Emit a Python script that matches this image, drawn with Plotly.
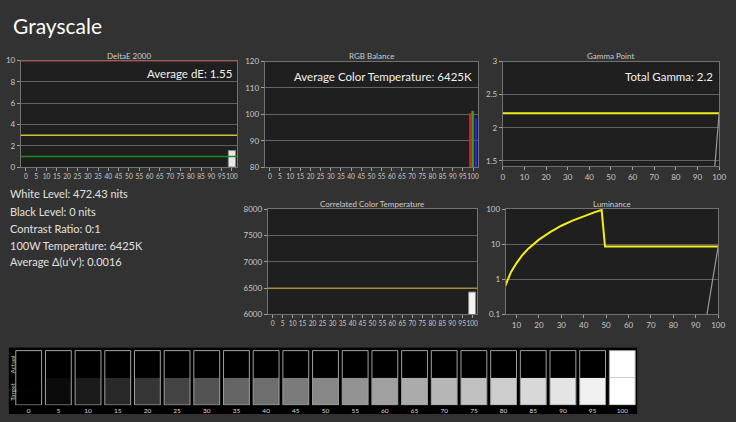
import plotly.graph_objects as go

W, H = 736, 422


def fx(p):
    return p / W


def fy(p):
    return 1 - p / H


FONT = "Lato"
PAGE_BG = "#323232"
PLOT_BG = "#1f1f1f"
GRID = "#626262"
AXLINE = "#727272"
TICKC = "#c8c8c8"

# ---------------- data ----------------
categories = ["0", "5", "10", "15", "20", "25", "30", "35", "40", "45", "50",
              "55", "60", "65", "70", "75", "80", "85", "90", "95", "100"]

# DeltaE 2000
de_x = ["100"]
de_y = [1.55]
de_ref_levels = [1, 3, 10]
de_ref_colors = ["#1d8a1d", "#c8c434", "#b8433c"]
avg_de = "1.55"

# RGB balance
rgb_x = ["100"]
red_y = [100.4]
green_y = [101.4]
blue_y = [98.4]
avg_ct = "6425K"

# Gamma point
gamma_target_x = [0, 100]
gamma_target_y = [2.22, 2.22]
gamma_meas_x = [95, 100]
gamma_meas_y = [0.2, 2.22]
total_gamma = "2.2"
gamma_xticks = [0, 10, 20, 30, 40, 50, 60, 70, 80, 90, 100]
gamma_yticks = [1.5, 2, 2.5, 3]
gamma_ytext = ["1.5", "2", "2.5", "3"]

# Correlated colour temperature
cct_x = ["100"]
cct_y = [6425]
cct_ref_level = 6500

# Luminance
lum_x = [5, 7.5, 10, 12.5, 15, 17.5, 20, 25, 30, 35, 40, 45, 48, 49.5, 100]
lum_y = [0.65, 1.6, 2.9, 4.8, 7.2, 10, 13.5, 22, 33.5, 47, 63, 82, 94, 8.6, 8.6]
lum_meas_x = [95, 100]
lum_meas_y = [0.1, 8.6]
lum_xticks = [10, 20, 30, 40, 50, 60, 70, 80, 90, 100]
lum_yticks = [0.1, 1, 10, 100]
lum_ytext = ["0.1", "1", "10", "100"]

# stats
stat_lines = ["White Level: 472.43 nits", "Black Level: 0 nits", "Contrast Ratio: 0:1",
              "100W Temperature: 6425K", "Average \u0394(u'v'): 0.0016"]

# swatches
target_colors = ["#000000", "#0b0b0b", "#1b1b1b", "#292929", "#363636", "#444444",
                 "#535353", "#646464", "#6e6e6e", "#7b7b7b", "#878787", "#939393",
                 "#a0a0a0", "#ababab", "#b6b6b6", "#c1c1c1", "#cdcdcd", "#d8d8d8",
                 "#e4e4e4", "#f0f0f0", "#ffffff"]
actual_colors = ["#000000"] * 20 + ["#ffffff"]
swatch_half = [1] * 21
swatch_full = [2] * 21

fig = go.Figure()

# DeltaE bar
fig.add_trace(go.Bar(x=de_x, y=de_y, xaxis="x", yaxis="y", width=0.7,
                     marker=dict(color="#e8e8e8", line=dict(color="#8a8a8a", width=1))))
# RGB bars
for ys, col, off, wd in [(red_y, "#e52020", -0.38, 0.2), (green_y, "#22a830", -0.16, 0.24),
                         (blue_y, "#2b2bf0", 0.17, 0.2)]:
    fig.add_trace(go.Bar(x=rgb_x, y=ys, xaxis="x2", yaxis="y2", width=wd, offset=off,
                         marker=dict(color=col, line=dict(width=0))))
# Gamma
fig.add_trace(go.Scatter(x=gamma_target_x, y=gamma_target_y, xaxis="x3", yaxis="y3",
                         mode="lines", line=dict(color="#f2ef1a", width=2)))
fig.add_trace(go.Scatter(x=gamma_meas_x, y=gamma_meas_y, xaxis="x3", yaxis="y3",
                         mode="lines", line=dict(color="#9a9a9a", width=1.2)))
# CCT
fig.add_trace(go.Bar(x=cct_x, y=cct_y, xaxis="x4", yaxis="y4", width=0.7,
                     marker=dict(color="#f4f4f4", line=dict(color="#8a8a8a", width=1))))
# Luminance
fig.add_trace(go.Scatter(x=lum_x, y=lum_y, xaxis="x5", yaxis="y5", mode="lines",
                         line=dict(color="#f2ef1a", width=2)))
fig.add_trace(go.Scatter(x=lum_meas_x, y=lum_meas_y, xaxis="x5", yaxis="y5", mode="lines",
                         line=dict(color="#9a9a9a", width=1.2)))
# Swatches
fig.add_trace(go.Bar(x=categories, y=swatch_half, base=0, xaxis="x6", yaxis="y6", width=0.87,
                     marker=dict(color=target_colors, line=dict(width=0))))
fig.add_trace(go.Bar(x=categories, y=swatch_half, base=1, xaxis="x6", yaxis="y6", width=0.87,
                     marker=dict(color=actual_colors, line=dict(width=0))))
fig.add_trace(go.Bar(x=categories, y=swatch_full, base=0, xaxis="x6", yaxis="y6", width=0.87,
                     marker=dict(color="rgba(0,0,0,0)", line=dict(color="#a0a0a0", width=1))))

tickfont = dict(family=FONT, size=8, color=TICKC)
common = dict(showline=True, mirror=True, linecolor=AXLINE, linewidth=1, ticks="outside",
              ticklen=3, tickcolor="#a0a0a0", tickfont=tickfont, zeroline=False)


def cat_x(d0, d1, anchor):
    return dict(common, domain=[fx(d0), fx(d1)], anchor=anchor, type="category",
                categoryorder="array", categoryarray=categories, range=[-0.5, 20.5],
                tickmode="array", tickvals=categories, ticktext=categories, tickangle=0,
                showgrid=False, tickfont=dict(family=FONT, size=6.6, color=TICKC))


def ydom(t, b):
    return [fy(b), fy(t)]


layout = dict(
    width=W, height=H, margin=dict(l=0, r=0, t=0, b=0),
    paper_bgcolor=PAGE_BG, plot_bgcolor=PLOT_BG, showlegend=False, barmode="overlay",
    font=dict(family=FONT, color="#dddddd"),
    xaxis=cat_x(19, 238, "y"),
    yaxis=dict(common, domain=ydom(57, 166), anchor="x", range=[0, 10], dtick=2,
               showgrid=True, gridcolor=GRID, gridwidth=1.3),
    xaxis2=cat_x(266, 482, "y2"),
    yaxis2=dict(common, domain=ydom(58, 166), anchor="x2", range=[80, 120], dtick=10,
                showgrid=True, gridcolor=GRID, gridwidth=1.3),
    xaxis3=dict(common, domain=[fx(507), fx(726)], anchor="y3", range=[0, 100],
                tickvals=gamma_xticks, showgrid=False),
    yaxis3=dict(common, domain=ydom(58, 165), anchor="x3", range=[1.42, 3.0],
                tickvals=gamma_yticks, ticktext=gamma_ytext, showgrid=True, gridcolor=GRID,
                gridwidth=1.3),
    xaxis4=cat_x(269, 481, "y4"),
    yaxis4=dict(common, domain=ydom(209, 317), anchor="x4", range=[6000, 8000], dtick=500,
                showgrid=True, gridcolor=GRID, gridwidth=1.3),
    xaxis5=dict(common, domain=[fx(510), fx(725)], anchor="y5", range=[5.2, 100],
                tickvals=lum_xticks, showgrid=False),
    yaxis5=dict(common, domain=ydom(209, 317), anchor="x5", type="log", range=[-1, 2],
                tickvals=lum_yticks, ticktext=lum_ytext, showgrid=True, gridcolor=GRID,
                gridwidth=1.3),
    xaxis6=dict(domain=[fx(7), fx(643)], anchor="y6", type="category", categoryorder="array",
                categoryarray=categories, range=[-0.666, 20.5], tickmode="array",
                tickvals=categories, ticktext=categories, tickangle=0, showgrid=False,
                showline=False, ticks="", ticklen=0,
                tickfont=dict(family=FONT, size=6.5, color="#dddddd"), zeroline=False),
    yaxis6=dict(domain=ydom(351, 410), anchor="x6", range=[-0.01, 2.108], showgrid=False,
                showticklabels=False, showline=False, ticks="", zeroline=False),
)

shapes = []
for lvl, col in zip(de_ref_levels, de_ref_colors):
    shapes.append(dict(type="line", xref="x domain", yref="y", x0=0, x1=1, y0=lvl, y1=lvl,
                       line=dict(color=col, width=1.5), layer="above"))
shapes.append(dict(type="line", xref="x4 domain", yref="y4", x0=0, x1=1, y0=cct_ref_level,
                   y1=cct_ref_level, line=dict(color="#a88e3a", width=1.5), layer="above"))
shapes.append(dict(type="rect", xref="x6 domain", yref="y6 domain", x0=0, x1=1, y0=-0.153,
                   y1=1, fillcolor="#000000", line=dict(width=0), layer="below"))
layout["shapes"] = shapes

ann = []
ann.append(dict(text="Grayscale", xref="paper", yref="paper", x=fx(9), y=fy(21),
                xanchor="left", yanchor="middle", showarrow=False,
                font=dict(family=FONT, size=21, color="#ffffff")))
for title, cx, cy in [("DeltaE 2000", (19 + 238) / 2, 52), ("RGB Balance", (266 + 482) / 2, 52),
                      ("Gamma Point", (507 + 726) / 2, 52),
                      ("Correlated Color Temperature", (269 + 481) / 2, 204),
                      ("Luminance", (510 + 725) / 2, 204)]:
    ann.append(dict(text=title, xref="paper", yref="paper", x=fx(cx), y=fy(cy),
                    xanchor="center", yanchor="middle", showarrow=False,
                    font=dict(family=FONT, size=8, color="#cccccc")))
for txt, rx, ry in [("Average dE: " + avg_de, 235, 70),
                    ("Average Color Temperature: " + avg_ct, 478, 73),
                    ("Total Gamma: " + total_gamma, 722, 73)]:
    ann.append(dict(text=txt, xref="paper", yref="paper", x=fx(rx), y=fy(ry),
                    xanchor="right", yanchor="middle", showarrow=False,
                    font=dict(family=FONT, size=11.5, color="#f0f0f0")))
for i, (txt, py) in enumerate(zip(stat_lines, [193, 211, 229, 246, 263])):
    ann.append(dict(text=txt, xref="paper", yref="paper", x=fx(6), y=fy(py),
                    xanchor="left", yanchor="middle", showarrow=False,
                    font=dict(family=FONT, size=11, color="#e0e0e0")))
for txt, yv in [("Actual", 1.5), ("Target", 0.5)]:
    ann.append(dict(text=txt, xref="paper", yref="y6", x=fx(10.5), y=yv, textangle=-90,
                    xanchor="center", yanchor="middle", showarrow=False,
                    font=dict(family=FONT, size=6.5, color="#cccccc")))
layout["annotations"] = ann

fig.update_layout(**layout)
fig.write_html("out.html", config={"displayModeBar": False},
               post_script="document.body.style.margin='0';"
                           "document.documentElement.style.overflow='hidden';")
